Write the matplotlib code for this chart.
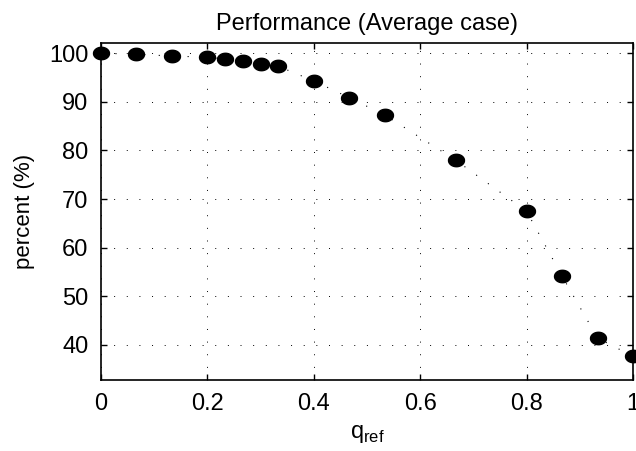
import numpy as np
import matplotlib
matplotlib.use("Agg")
import matplotlib.pyplot as plt

plt.rcParams['font.family'] = ['Liberation Sans', 'DejaVu Sans']

# q_ref values and measured performance (%)
qref = [0, 1/15, 2/15, 0.2, 0.2333, 0.2667, 0.3, 0.3333, 0.4, 0.4667, 0.5333,
        0.6667, 0.8, 0.8667, 0.9333, 1.0]
percent = [100.0, 99.8, 99.4, 99.2, 98.8, 98.35, 97.8, 97.3, 94.3, 90.85, 87.3,
           78.0, 67.5, 54.15, 41.45, 37.65]
xticks = [0, 0.2, 0.4, 0.6, 0.8, 1]
yticks = [40, 50, 60, 70, 80, 90, 100]

# slightly wide ellipse marker like the original
t = np.linspace(0, 2*np.pi, 40)
ell = list(zip(1.0*np.cos(t), 0.78*np.sin(t)))

fig = plt.figure(figsize=(6.36, 4.51), dpi=100)
ax = fig.add_axes([0.1588, 0.1574, 0.8365, 0.7473])

ax.plot(qref, percent, color='k', linestyle=(0, (1, 12)), linewidth=0.8,
        marker=ell, markersize=11.5, markerfacecolor='k', markeredgecolor='k',
        clip_on=False, zorder=3)

ax.set_xlim(0, 1)
ax.set_ylim(32.8, 102.1)
ax.set_xticks(xticks)
ax.set_xticklabels(['0', '0.2', '0.4', '0.6', '0.8', '1'])
ax.set_yticks(yticks)
ax.grid(True, color='k', linestyle=(0, (1, 12)), linewidth=0.7)
ax.tick_params(direction='in', top=True, right=True, labelsize=17, length=4,
               width=1, pad=9)
for s in ax.spines.values():
    s.set_linewidth(1.2)

ax.set_title('Performance (Average case)', fontsize=17, pad=9)
ax.set_xlabel('q$_{\\mathregular{ref}}$', fontsize=17, labelpad=6)
ax.set_ylabel('percent (%)', fontsize=16, labelpad=10)

fig.savefig('out.png', dpi=100)
